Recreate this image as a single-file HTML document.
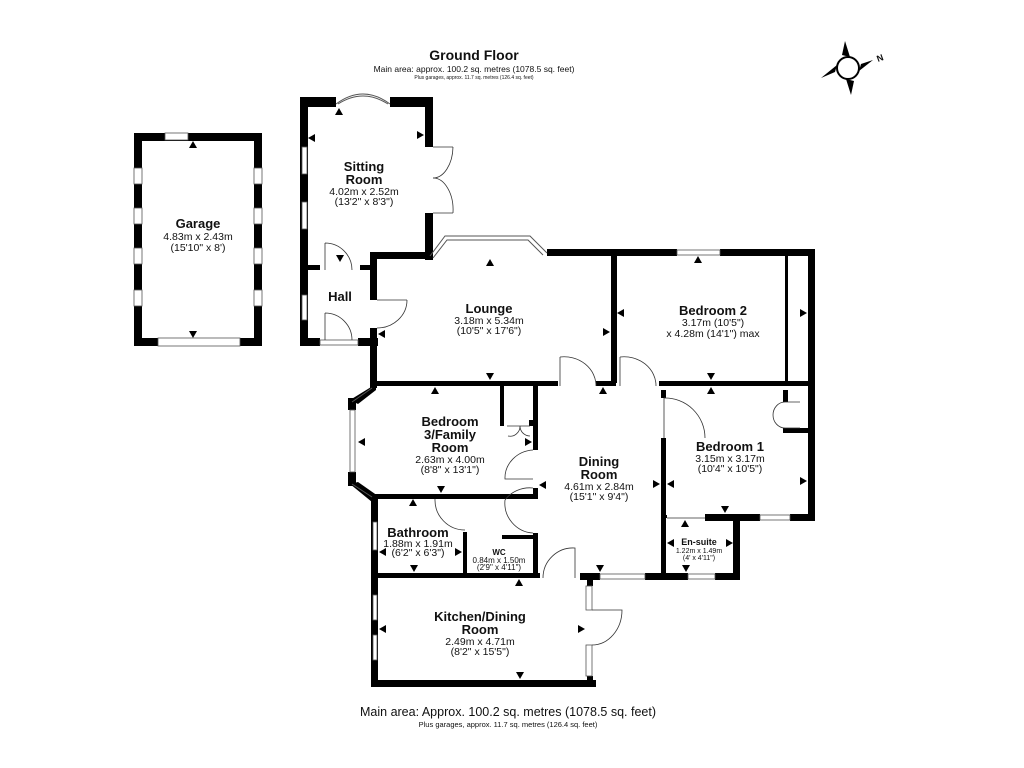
<!DOCTYPE html>
<html><head><meta charset="utf-8"><style>
html,body{margin:0;padding:0;background:#fff;}
svg{display:block}
text{font-family:"Liberation Sans",Arial,sans-serif;fill:#111}
.t{font-weight:bold;font-size:13px}
.d{font-size:10.5px}
.s{font-size:8px}
</style></head><body>
<svg width="1024" height="768" viewBox="0 0 1024 768" xmlns="http://www.w3.org/2000/svg">
<rect width="1024" height="768" fill="#fff"/>
<!-- headings -->
<text x="474" y="60" text-anchor="middle" font-weight="bold" font-size="14">Ground Floor</text>
<text x="474" y="72" text-anchor="middle" font-size="8.5">Main area: approx. 100.2 sq. metres (1078.5 sq. feet)</text>
<text x="474" y="79" text-anchor="middle" font-size="5">Plus garages, approx. 11.7 sq. metres (126.4 sq. feet)</text>
<text x="508" y="716" text-anchor="middle" font-size="12.5">Main area: Approx. 100.2 sq. metres (1078.5 sq. feet)</text>
<text x="508" y="727" text-anchor="middle" font-size="7.5">Plus garages, approx. 11.7 sq. metres (126.4 sq. feet)</text>
<!-- compass -->
<g transform="translate(848,68)">
<circle r="11" fill="#fff" stroke="#000" stroke-width="2"/>
<polygon points="-6,-13 -3,-27 2,-11" fill="#000"/>
<polygon points="6,13 3,27 -2,11" fill="#000"/>
<polygon points="-13,4 -27,10 -11,-3" fill="#000"/>
<polygon points="13,-4 25,-8 11,3" fill="#000"/>
<text x="30" y="-6" font-size="9" font-weight="bold" transform="rotate(-20 30 -6)">N</text>
</g>
<g fill="#000">
<!-- Garage -->
<rect x="134" y="133" width="128" height="8"/>
<rect x="134" y="133" width="8" height="213"/>
<rect x="254" y="133" width="8" height="213"/>
<rect x="134" y="338" width="128" height="8"/>
<!-- Sitting room -->
<rect x="300" y="97" width="36" height="10"/>
<rect x="390" y="97" width="43" height="10"/>
<rect x="300" y="97" width="8" height="249"/>
<rect x="425" y="97" width="8" height="50"/>
<rect x="425" y="213" width="8" height="47"/>
<!-- hall -->
<rect x="300" y="338" width="20" height="8"/>
<rect x="358" y="338" width="20" height="8"/>
<rect x="300" y="265" width="20" height="5"/>
<rect x="360" y="265" width="17" height="5"/>
<rect x="370" y="253" width="7" height="47"/>
<rect x="370" y="328" width="7" height="60"/>
<!-- lounge top -->
<rect x="370" y="252" width="60" height="7"/>
<rect x="547" y="249" width="130" height="7"/>
<rect x="720" y="249" width="95" height="7"/>
<rect x="808" y="249" width="7" height="272"/>
<rect x="611" y="253" width="6" height="130"/>
<rect x="375" y="381" width="183" height="5"/>
<rect x="596" y="381" width="20" height="5"/>
<rect x="659" y="381" width="150" height="5"/>
<!-- bedroom 2 wardrobe -->
<rect x="785" y="256" width="3" height="130"/>
<!-- bedroom 1 -->
<rect x="661" y="390" width="5" height="8"/>
<rect x="661" y="438" width="5" height="142"/>
<rect x="783" y="390" width="5" height="12"/>
<rect x="783" y="428" width="25" height="5"/>
<rect x="705" y="514" width="55" height="7"/>
<rect x="790" y="514" width="25" height="7"/>
<rect x="733" y="514" width="7" height="66"/>
<rect x="580" y="573" width="20" height="7"/>
<rect x="645" y="573" width="43" height="7"/>
<rect x="715" y="573" width="25" height="7"/>
<rect x="661" y="515" width="6" height="3"/>
<!-- bedroom 3 -->
<polygon points="376,384 376,390 358,404 350,400"/>
<rect x="348" y="398" width="8" height="12"/>
<rect x="348" y="472" width="8" height="14"/>
<polygon points="350,484 358,482 378,496 372,502"/>
<rect x="371" y="494" width="7" height="193"/>
<rect x="533" y="386" width="5" height="64"/>
<rect x="500" y="386" width="4" height="40"/>
<rect x="529" y="420" width="5" height="6"/>
<rect x="376" y="494" width="162" height="5"/>
<rect x="533" y="488" width="5" height="11"/>
<!-- bath / wc -->
<rect x="463" y="532" width="4" height="46"/>
<rect x="502" y="535" width="35" height="4"/>
<rect x="533" y="533" width="5" height="45"/>
<rect x="376" y="573" width="164" height="5"/>
<!-- kitchen -->
<rect x="371" y="680" width="225" height="7"/>
<rect x="587" y="578" width="6" height="8"/>
<rect x="587" y="676" width="6" height="11"/>
<!-- windows wall bits on kitchen left -->
<rect x="371" y="600" width="7" height="0"/>
</g>
<!-- windows -->
<g fill="#fff" stroke="#555" stroke-width="0.8">
<rect x="165" y="133" width="23" height="7"/>
<rect x="158" y="338" width="82" height="8"/>
<rect x="134" y="168" width="8" height="16"/><rect x="134" y="208" width="8" height="16"/><rect x="134" y="248" width="8" height="16"/><rect x="134" y="290" width="8" height="16"/>
<rect x="254" y="168" width="8" height="16"/><rect x="254" y="208" width="8" height="16"/><rect x="254" y="248" width="8" height="16"/><rect x="254" y="290" width="8" height="16"/>
<rect x="302" y="147" width="5" height="27"/><rect x="302" y="202" width="5" height="27"/><rect x="302" y="295" width="5" height="25"/>
<rect x="320" y="340" width="38" height="5"/>
<rect x="677" y="250" width="43" height="5"/>
<rect x="350" y="410" width="5" height="62"/>
<rect x="373" y="522" width="4" height="28"/>
<rect x="373" y="595" width="4" height="25"/><rect x="373" y="635" width="4" height="25"/>
<rect x="586" y="586" width="6" height="24"/><rect x="586" y="645" width="6" height="31"/>
<rect x="600" y="574" width="45" height="5"/>
<rect x="688" y="574" width="27" height="5"/>
<rect x="760" y="515" width="30" height="5"/>
</g>
<!-- bays -->
<g fill="none" stroke="#555" stroke-width="1">
<path d="M336,104 Q363,84 390,104"/><path d="M338,104 Q363,88 388,104"/>
<path d="M430,256 L445,236 L530,236 L547,253"/><path d="M433,258 L447,240 L528,240 L543,255"/>
<path d="M352,402 L372,388"/><path d="M352,484 L372,497"/>
</g>
<!-- doors -->
<g fill="none" stroke="#333" stroke-width="0.8">
<line x1="433" y1="147" x2="453" y2="147"/><path d="M453,147 A20,32 0 0 1 433,178"/>
<line x1="433" y1="213" x2="453" y2="213"/><path d="M453,213 A20,32 0 0 0 433,178"/>
<path d="M325,243 L325,270 M325,243 A27,27 0 0 1 352,270"/>
<path d="M325,313 L325,340 M325,313 A27,27 0 0 1 352,340"/>
<path d="M377,300 L407,300 M407,300 A30,28 0 0 1 377,328"/>
<path d="M560,357 L560,386 M560,357 A32,29 0 0 1 596,386"/>
<path d="M620,357 L620,386 M620,357 A32,29 0 0 1 656,386"/>
<path d="M664,398 L664,438 M664,398 A40,40 0 0 1 705,438"/>
<path d="M507,426 L530,426 M520,426 A10,10 0 0 1 508,436 M520,426 A10,10 0 0 0 530,436"/>
<path d="M785,402 A12,13 0 0 0 785,428 M785,402 L800,402 M785,428 L800,428"/>
<path d="M533,450 A30,28 0 0 0 505,479 L533,479"/>
<path d="M533,488 A30,28 0 0 0 505,500"/>
<path d="M505,500 A30,30 0 0 0 533,533"/>
<path d="M435,499 A30,30 0 0 0 465,530"/>
<path d="M543,578 A30,30 0 0 1 575,548 L575,578"/>
<path d="M592,610 L622,610 A30,35 0 0 1 592,645"/>
<path d="M667,518 L705,518"/>
</g>
<!-- arrows -->
<g fill="#000">
<polygon points="193,141 197,148 189,148"/><polygon points="193,338 197,331 189,331"/>
<polygon points="339,108 343,115 335,115"/><polygon points="308,138 315,134 315,142"/><polygon points="424,135 417,131 417,139"/>
<polygon points="340,262 344,255 336,255"/><polygon points="378,334 385,330 385,338"/>
<polygon points="490,259 494,266 486,266"/><polygon points="490,380 494,373 486,373"/><polygon points="610,332 603,328 603,336"/>
<polygon points="617,313 624,309 624,317"/><polygon points="698,256 702,263 694,263"/><polygon points="711,380 715,373 707,373"/><polygon points="807,313 800,309 800,317"/>
<polygon points="435,387 439,394 431,394"/><polygon points="603,387 607,394 599,394"/><polygon points="711,387 715,394 707,394"/>
<polygon points="358,442 365,438 365,446"/><polygon points="532,442 525,438 525,446"/><polygon points="441,493 445,486 437,486"/>
<polygon points="539,485 546,481 546,489"/><polygon points="660,484 653,480 653,488"/><polygon points="667,484 674,480 674,488"/><polygon points="807,481 800,477 800,485"/>
<polygon points="725,513 729,506 721,506"/><polygon points="685,520 689,527 681,527"/>
<polygon points="667,543 674,539 674,547"/><polygon points="733,543 726,539 726,547"/><polygon points="686,572 690,565 682,565"/>
<polygon points="413,499 417,506 409,506"/><polygon points="379,552 386,548 386,556"/><polygon points="462,552 455,548 455,556"/><polygon points="414,572 418,565 410,565"/>
<polygon points="600,572 604,565 596,565"/><polygon points="519,579 523,586 515,586"/>
<polygon points="379,629 386,625 386,633"/><polygon points="585,629 578,625 578,633"/><polygon points="520,679 524,672 516,672"/>
</g>
<!-- labels -->
<text class="t" x="198" y="228" text-anchor="middle">Garage</text>
<text class="d" x="198" y="240" text-anchor="middle">4.83m x 2.43m</text>
<text class="d" x="198" y="251" text-anchor="middle">(15'10" x 8')</text>
<text class="t" x="364" y="171" text-anchor="middle">Sitting</text>
<text class="t" x="364" y="184" text-anchor="middle">Room</text>
<text class="d" x="364" y="195" text-anchor="middle">4.02m x 2.52m</text>
<text class="d" x="364" y="205" text-anchor="middle">(13'2" x 8'3")</text>
<text class="t" x="340" y="301" text-anchor="middle">Hall</text>
<text class="t" x="489" y="313" text-anchor="middle">Lounge</text>
<text class="d" x="489" y="324" text-anchor="middle">3.18m x 5.34m</text>
<text class="d" x="489" y="334" text-anchor="middle">(10'5" x 17'6")</text>
<text class="t" x="713" y="315" text-anchor="middle">Bedroom 2</text>
<text class="d" x="713" y="326" text-anchor="middle">3.17m (10'5")</text>
<text class="d" x="713" y="337" text-anchor="middle">x 4.28m (14'1") max</text>
<text class="t" x="450" y="426" text-anchor="middle">Bedroom</text>
<text class="t" x="450" y="439" text-anchor="middle">3/Family</text>
<text class="t" x="450" y="452" text-anchor="middle">Room</text>
<text class="d" x="450" y="463" text-anchor="middle">2.63m x 4.00m</text>
<text class="d" x="450" y="473" text-anchor="middle">(8'8" x 13'1")</text>
<text class="t" x="599" y="466" text-anchor="middle">Dining</text>
<text class="t" x="599" y="479" text-anchor="middle">Room</text>
<text class="d" x="599" y="490" text-anchor="middle">4.61m x 2.84m</text>
<text class="d" x="599" y="500" text-anchor="middle">(15'1" x 9'4")</text>
<text class="t" x="730" y="451" text-anchor="middle">Bedroom 1</text>
<text class="d" x="730" y="462" text-anchor="middle">3.15m x 3.17m</text>
<text class="d" x="730" y="472" text-anchor="middle">(10'4" x 10'5")</text>
<text class="t" x="418" y="537" text-anchor="middle" font-size="11.5">Bathroom</text>
<text class="d" x="418" y="547" text-anchor="middle" font-size="9.5">1.88m x 1.91m</text>
<text class="d" x="418" y="556" text-anchor="middle" font-size="9.5">(6'2" x 6'3")</text>
<text x="499" y="555" text-anchor="middle" font-size="8" font-weight="bold">WC</text>
<text class="s" x="499" y="563" text-anchor="middle" font-size="7">0.84m x 1.50m</text>
<text class="s" x="499" y="570" text-anchor="middle" font-size="7">(2'9" x 4'11")</text>
<text x="699" y="545" text-anchor="middle" font-size="9" font-weight="bold">En-suite</text>
<text x="699" y="553" text-anchor="middle" font-size="7">1.22m x 1.49m</text>
<text x="699" y="560" text-anchor="middle" font-size="7">(4' x 4'11")</text>
<text class="t" x="480" y="621" text-anchor="middle">Kitchen/Dining</text>
<text class="t" x="480" y="634" text-anchor="middle">Room</text>
<text class="d" x="480" y="645" text-anchor="middle">2.49m x 4.71m</text>
<text class="d" x="480" y="655" text-anchor="middle">(8'2" x 15'5")</text>
</svg>
</body></html>
